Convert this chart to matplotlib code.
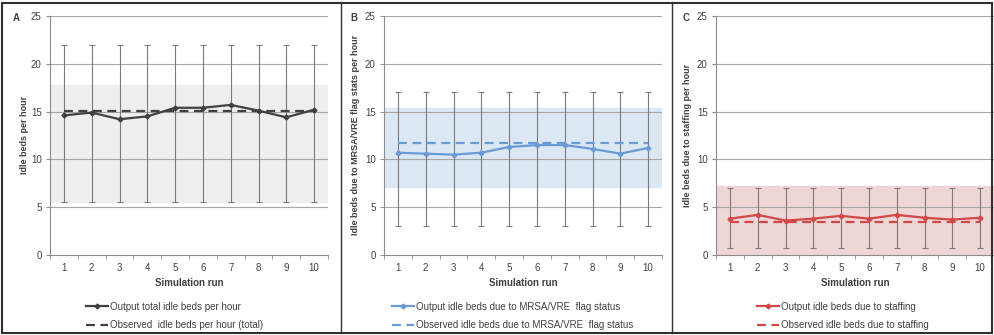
import matplotlib
matplotlib.use("Agg")
import matplotlib.pyplot as plt
import numpy as np
from matplotlib.patches import Rectangle
from matplotlib.lines import Line2D

plt.rcParams['font.family'] = ['Liberation Sans', 'DejaVu Sans']

runs = list(range(1, 11))

# Panel A: total idle beds
out_a = [14.6, 14.9, 14.2, 14.5, 15.4, 15.4, 15.7, 15.1, 14.4, 15.2]
obs_a = 15.1
err_a = (5.5, 22.0)
band_a = (5.5, 17.8)

# Panel B: idle beds due to MRSA/VRE flag status
out_b = [10.7, 10.6, 10.5, 10.7, 11.3, 11.5, 11.5, 11.1, 10.6, 11.2]
obs_b = 11.7
err_b = (3.0, 17.0)
band_b = (7.1, 15.4)

# Panel C: idle beds due to staffing
out_c = [3.8, 4.2, 3.6, 3.8, 4.1, 3.8, 4.2, 3.9, 3.7, 3.9]
obs_c = 3.4
err_c = (0.7, 7.0)
band_c = (0.0, 7.2)

panels = [
    dict(letter='A', out=out_a, obs=obs_a, err=err_a, band=band_a,
         color='#404040', band_color='#eeeeee',
         ylabel='Idle beds per hour',
         labels=['Output total idle beds per hour', 'Observed  idle beds per hour (total)'],
         left=50, ylab_x=25, letter_x=13, leg_x=81),
    dict(letter='B', out=out_b, obs=obs_b, err=err_b, band=band_b,
         color='#6a9bd6', band_color='#dce7f4',
         ylabel='Idle beds due to MRSA/VRE flag stats per hour',
         labels=['Output idle beds due to MRSA/VRE  flag status',
                 'Observed idle beds due to MRSA/VRE  flag status'],
         left=384, ylab_x=356, letter_x=350, leg_x=387),
    dict(letter='C', out=out_c, obs=obs_c, err=err_c, band=band_c,
         color='#d04848', band_color='#efd6d6',
         ylabel='Idle beds due to staffing per hour',
         labels=['Output idle beds due to staffing', 'Observed idle beds due to staffing'],
         left=716, ylab_x=688, letter_x=683, leg_x=752),
]

W, H = 995, 335
fig = plt.figure(figsize=(W / 100, H / 100), dpi=100)
text_col = '#404040'
grid_col = '#a6a6a6'

for p in panels:
    ax = fig.add_axes([p['left'] / W, 1 - 255 / H, 278 / W, 239 / H])
    ax.set_xlim(0.5, 10.5)
    ax.set_ylim(0, 25)

    ax.axhspan(p['band'][0], p['band'][1], color=p['band_color'], zorder=0)
    for yv in [5, 10, 15, 20, 25]:
        ax.axhline(yv, color=grid_col, lw=0.8, zorder=1)

    out = np.array(p['out'])
    lo, hi = p['err']
    ax.errorbar(runs, out, yerr=[out - lo, hi - out], fmt='none',
                ecolor='#7a7a7a', elinewidth=0.8, capsize=2, capthick=0.8, zorder=2)
    ax.plot(runs, [p['obs']] * len(runs), color=p['color'], lw=1.6,
            dashes=(4, 2.5), zorder=3, label=p['labels'][1])
    ax.plot(runs, out, color=p['color'], lw=1.6, marker='D', ms=2.5, zorder=4,
            label=p['labels'][0])

    for s in ['top', 'right']:
        ax.spines[s].set_visible(False)
    for s in ['left', 'bottom']:
        ax.spines[s].set_color('#8c8c8c')
        ax.spines[s].set_linewidth(0.8)

    ax.set_xticks(runs)
    ax.set_xticks(np.arange(0.5, 11, 1), minor=True)
    ax.tick_params(axis='x', which='major', length=0, pad=6, labelsize=7, labelcolor=text_col)
    ax.tick_params(axis='x', which='minor', length=3, color='#8c8c8c', direction='out')
    ax.set_yticks([0, 5, 10, 15, 20, 25])
    ax.tick_params(axis='y', length=3, color='#8c8c8c', labelsize=7, labelcolor=text_col, pad=3)
    ax.set_xlabel('Simulation run', fontsize=7, fontweight='bold', color=text_col, labelpad=3)

    fig.text(p['ylab_x'] / W, 1 - 135 / H, p['ylabel'], rotation=90, fontsize=6.5,
             fontweight='bold', color=text_col, ha='center', va='center')
    fig.text(p['letter_x'] / W, 1 - 18 / H, p['letter'], fontsize=7, fontweight='bold',
             color=text_col, ha='left', va='center')

    h, l = ax.get_legend_handles_labels()
    ax.legend(h[::-1], l[::-1], loc='upper left', bbox_to_anchor=(p['leg_x'] / W, 1 - 297 / H),
              bbox_transform=fig.transFigure, frameon=False, fontsize=7,
              handlelength=2.3, handletextpad=0.15, labelspacing=0.85, borderpad=0,
              labelcolor=text_col)

# outer frame and panel dividers
fig.add_artist(Rectangle((2 / W, 2 / H), 990 / W, 330 / H, transform=fig.transFigure,
                         fill=False, ec='#303030', lw=1.5))
for xd in [341, 672]:
    fig.add_artist(Line2D([xd / W, xd / W], [2 / H, 1 - 2 / H], transform=fig.transFigure,
                          color='#303030', lw=1.0))

fig.savefig('out.png', dpi=100)
